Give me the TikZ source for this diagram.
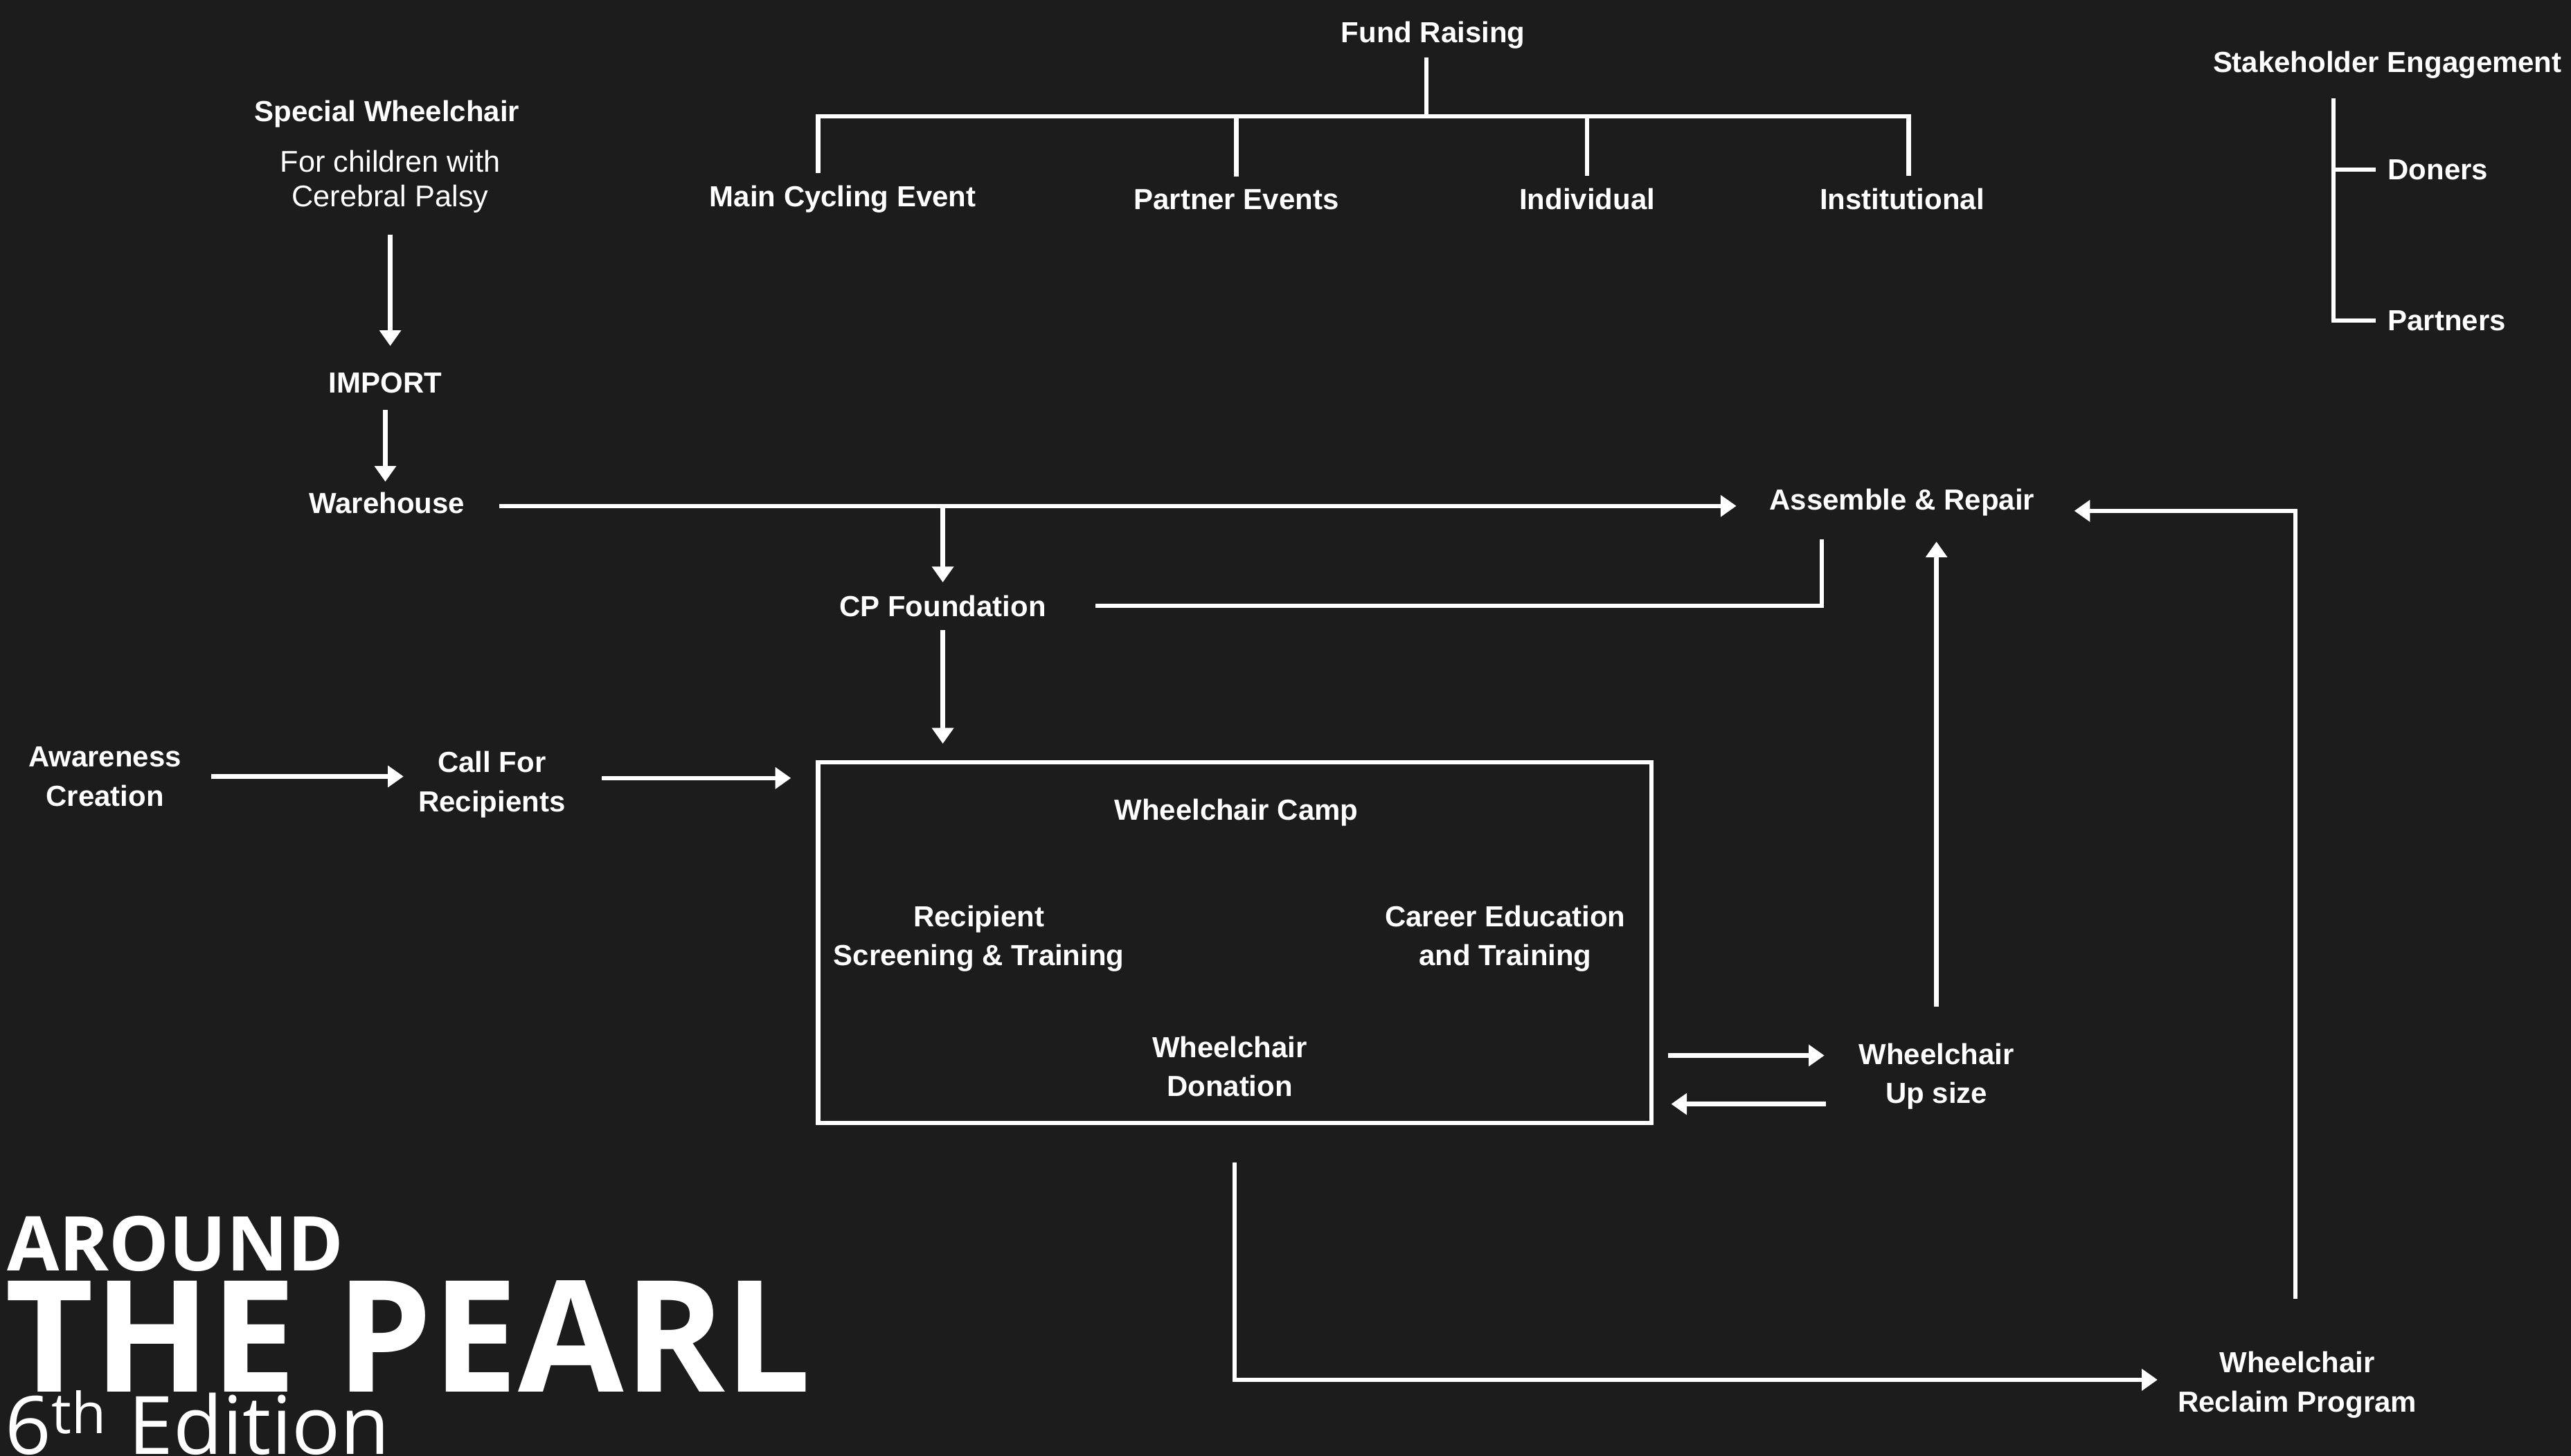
\documentclass[tikz,border=0pt]{standalone}
\usepackage{fontspec}
\setmainfont{Liberation Sans}
\newfontfamily\titlefont{Open Sans}
\usetikzlibrary{arrows.meta,positioning}
\definecolor{fgcolor}{HTML}{FFFFFF}
\definecolor{bgcolor}{HTML}{1C1C1C}

\tikzset{
  lbl/.style={text=fgcolor,inner sep=0pt,align=center,yshift=-0.04cm,
    font=\fontsize{12.6}{17}\selectfont\bfseries},
  note/.style={lbl,font=\fontsize{13}{15}\selectfont},
  ln/.style={draw=fgcolor,line width=1.9pt},
  arr/.style={ln,-{Triangle[length=0.24cm,width=0.32cm]}},
  title/.style={text=fgcolor,inner sep=0pt,anchor=base west},
}

\begin{document}
\begin{tikzpicture}[x=0.025cm,y=-0.025cm]
\fill[bgcolor] (0,0) rectangle (1568,888);
\useasboundingbox (0,0) rectangle (1568,888);

% fund raising tree
\node[lbl] (fund) at (874,20) {Fund Raising};
\node[lbl] (main) at (514,120) {Main Cycling Event};
\node[lbl] (partner) at (754,120) {Partner Events};
\node[lbl] (indiv) at (968,120) {Individual};
\node[lbl] (inst) at (1160,120) {Institutional};
\coordinate (fbar) at (870,71);
\draw[ln,shorten <=0.12cm] (fund.south -| fbar) -- (fbar);
\draw[ln] ([xshift=-0.375cm,yshift=0.19cm]main.north) |- (fbar)
  -| ([xshift=0.1cm,yshift=0.19cm]inst.north);
\draw[ln] ([yshift=0.19cm]partner.north) -- (partner.north |- fbar);
\draw[ln] ([yshift=0.19cm]indiv.north) -- (indiv.north |- fbar);

% stakeholders
\node[lbl] (stake) at (1456,38) {Stakeholder Engagement};
\node[lbl,anchor=west] (doners) at (1456,102) {Doners};
\node[lbl,anchor=west] (partners) at (1456,194) {Partners};
\coordinate (stem) at (1423,60);
\draw[ln] (stem) |- ([xshift=-0.18cm]partners.west);
\draw[ln] ([xshift=-0.18cm]doners.west) -- (doners.west -| stem);

% supply chain
\node[lbl] (special) at (236,68) {Special Wheelchair};
\node[note] (forcp) at (238,109) {For children with\\Cerebral Palsy};
\node[lbl] (import) at (235,232) {IMPORT};
\node[lbl] (ware) at (236,305) {Warehouse};
\node[lbl] (assemble) at (1160,305) {Assemble \& Repair};
\node[lbl] (cpf) at (575,368) {CP Foundation};

\draw[arr,shorten <=0.33cm,shorten >=0.4cm] (forcp.south) -- (forcp.south |- import.north);
\draw[arr,shorten <=0.25cm,shorten >=0.15cm] (import.south) -- (import.south |- ware.north);
\draw[arr,shorten <=0.52cm,shorten >=0.5cm] ([yshift=-0.05cm]ware.east) -- ([yshift=-0.05cm]ware.east -| assemble.west);
\draw[arr,shorten >=0.19cm] ([yshift=-0.05cm]cpf.north |- ware.east) -- (cpf.north);
\draw[ln,shorten <=0.75cm,shorten >=0.35cm] (cpf.east) -| ([xshift=-1.225cm]assemble.south);

% recipients
\node[lbl] (aware) at (64,472) {Awareness\\Creation};
\node[lbl] (call) at (300,477) {Call For\\Recipients};
\node[draw=fgcolor,line width=1.9pt,minimum width=12.7cm,minimum height=5.5cm,
  inner sep=0pt] (camp) at (753,575) {};
\node[lbl] (campt) at (754,494) {Wheelchair Camp};
\node[lbl] (screen) at (597,571) {Recipient\\Screening \& Training};
\node[lbl] (career) at (918,571) {Career Education\\and Training};
\node[lbl] (donate) at (750,649) {Wheelchair\\Donation};
\node[lbl] (upsize) at (1181,655) {Wheelchair\\Up size};
\node[lbl] (reclaim) at (1401,843) {Wheelchair\\Reclaim Program};

\draw[arr,shorten <=0.2cm,shorten >=0.25cm] (cpf.south) -- (cpf.south |- camp.north);
\draw[arr,shorten <=0.45cm,shorten >=0.22cm] (aware.east) -- (aware.east -| call.west);
\draw[arr,shorten <=0.55cm,shorten >=0.38cm] ([yshift=0.1cm]call.east) -- ([yshift=0.1cm]call.east -| camp.west);
\draw[arr,shorten <=0.22cm,shorten >=0.52cm] ([yshift=0.32cm]upsize.west -| camp.east) -- ([yshift=0.32cm]upsize.west);
\draw[arr,shorten <=0.5cm,shorten >=0.27cm] ([yshift=-0.42cm]upsize.west) -- ([yshift=-0.42cm]upsize.west -| camp.east);
\draw[arr,shorten <=0.55cm,shorten >=0.38cm] (upsize.north) -- (upsize.north |- assemble.south);
\draw[arr,shorten <=0.8cm,shorten >=0.6cm] ([xshift=-0.025cm]reclaim.north) |- ([yshift=-0.125cm]assemble.east);
\draw[arr,shorten <=0.57cm,shorten >=0.3cm] (camp.south) |- ([yshift=0.075cm]reclaim.west);

% title
\node[title,font=\titlefont\bfseries\fontsize{32.8}{34}\selectfont] (around) at (4,775) {AROUND};
\node[title,font=\titlefont\bfseries\fontsize{67.4}{70}\selectfont,xscale=0.985] (pearl) at (3,849) {THE PEARL};
\node[title,font=\titlefont\fontsize{35}{36}\selectfont] (edition) at (3,887) {6\textsuperscript{th} Edition};
\end{tikzpicture}
\end{document}
